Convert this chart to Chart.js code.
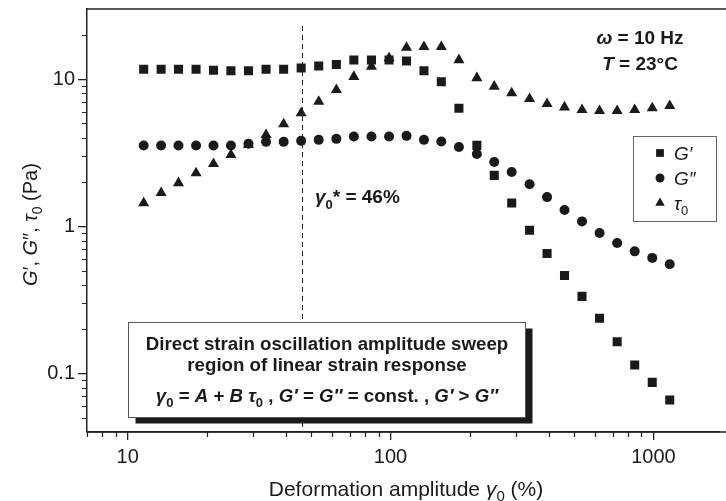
<!DOCTYPE html>
<html>
<head>
<meta charset="utf-8">
<script src="https://cdn.jsdelivr.net/npm/chart.js@4.4.1/dist/chart.umd.min.js"></script>
<style>
html, body { margin: 0; padding: 0; background: #fff; overflow: hidden; }
#wrap { width: 726px; height: 501px; }
</style>
</head>
<body>
<div id="wrap"><canvas id="myChart" width="726" height="501"></canvas></div>
<script>
// deformation amplitude gamma_0 (%)
var strain = [11.5, 13.4, 15.6, 18.2, 21.2, 24.7, 28.8, 33.6, 39.2, 45.7, 53.3, 62.2, 72.5, 84.6, 98.7,
              115, 134, 156, 182, 213, 248, 289, 338, 394, 459, 535, 624, 728, 849, 990, 1154];
// G' (Pa)
var gStorage = [11.7, 11.7, 11.7, 11.7, 11.5, 11.4, 11.4, 11.7, 11.7, 11.9, 12.3, 12.6, 13.5, 13.5, 13.5,
                13.3, 11.4, 9.6, 6.35, 3.55, 2.22, 1.44, 0.94, 0.653, 0.463, 0.334, 0.237, 0.164, 0.114, 0.087, 0.066];
// G'' (Pa)
var gLoss = [3.54, 3.54, 3.54, 3.54, 3.54, 3.54, 3.64, 3.75, 3.75, 3.81, 3.87, 3.93, 4.08, 4.08, 4.08,
             4.12, 3.87, 3.77, 3.46, 3.10, 2.74, 2.34, 1.93, 1.58, 1.29, 1.08, 0.90, 0.77, 0.676, 0.61, 0.552];
// tau_0 (Pa)
var tau0 = [1.44, 1.69, 1.97, 2.30, 2.66, 3.06, 3.58, 4.19, 4.95, 5.88, 7.05, 8.46, 10.4, 12.2, 13.9,
            16.4, 16.6, 16.6, 13.5, 10.2, 8.92, 8.04, 7.35, 6.80, 6.45, 6.19, 6.09, 6.09, 6.19, 6.36, 6.59];

var xMajor = [10, 100, 1000];
var xMinor = [7, 8, 9, 20, 30, 40, 50, 60, 70, 80, 90, 200, 300, 400, 500, 600, 700, 800, 900];
var yMajor = [0.1, 1, 10];
var yMinor = [0.05, 0.06, 0.07, 0.08, 0.09, 0.2, 0.3, 0.4, 0.5, 0.6, 0.7, 0.8, 0.9,
              2, 3, 4, 5, 6, 7, 8, 9, 20];
var gammaStar = 46;

var FONT = '"Liberation Sans", Arial, Helvetica, sans-serif';
var INK = '#1a1a1a';

function pts(ys) {
    return strain.map(function (x, i) { return { x: x, y: ys[i] }; });
}

// draw a row of text pieces with different fonts / offsets
function drawRuns(ctx, runs, x, y, align) {
    var w = 0;
    runs.forEach(function (r) { ctx.font = r.font; w += ctx.measureText(r.t).width; });
    var cx = x;
    if (align === 'center') cx = x - w / 2;
    if (align === 'right') cx = x - w;
    runs.forEach(function (r) {
        ctx.font = r.font;
        ctx.fillText(r.t, cx, y + (r.dy || 0));
        cx += ctx.measureText(r.t).width;
    });
}

function marker(ctx, style, x, y, r) {
    ctx.beginPath();
    if (style === 'rect') {
        var s = r * Math.SQRT1_2;
        ctx.rect(x - s, y - s, 2 * s, 2 * s);
    } else if (style === 'triangle') {
        var a = 0;
        ctx.moveTo(x + Math.sin(a) * r, y - Math.cos(a) * r);
        a += Math.PI * 2 / 3;
        ctx.lineTo(x + Math.sin(a) * r, y - Math.cos(a) * r);
        a += Math.PI * 2 / 3;
        ctx.lineTo(x + Math.sin(a) * r, y - Math.cos(a) * r);
        ctx.closePath();
    } else {
        ctx.arc(x, y, r, 0, Math.PI * 2);
    }
    ctx.fill();
}

var extras = {
    id: 'extras',
    beforeDatasetsDraw: function (chart) {
        var ctx = chart.ctx, a = chart.chartArea;
        var xs = chart.scales.x;
        ctx.save();
        // dashed line at gamma_0*
        var gx = Math.round(xs.getPixelForValue(gammaStar)) + 0.5;
        ctx.strokeStyle = '#222';
        ctx.lineWidth = 1;
        ctx.setLineDash([5, 4]);
        ctx.beginPath();
        ctx.moveTo(gx, 26);
        ctx.lineTo(gx, a.bottom);
        ctx.stroke();
        ctx.setLineDash([]);
        ctx.restore();
    },
    afterDraw: function (chart) {
        var ctx = chart.ctx, a = chart.chartArea;
        var xs = chart.scales.x, ys = chart.scales.y;
        ctx.save();

        // top frame line, bottom line carried to the edge
        ctx.strokeStyle = '#222';
        ctx.lineWidth = 1.5;
        ctx.beginPath();
        ctx.moveTo(a.left, a.top);
        ctx.lineTo(726, a.top);
        ctx.moveTo(a.left, a.bottom);
        ctx.lineTo(726, a.bottom);
        ctx.stroke();

        // minor ticks
        ctx.lineWidth = 1.2;
        ctx.beginPath();
        xMinor.forEach(function (v) {
            var px = Math.round(xs.getPixelForValue(v)) + 0.5;
            ctx.moveTo(px, a.bottom);
            ctx.lineTo(px, a.bottom + 5);
        });
        yMinor.forEach(function (v) {
            var py = Math.round(ys.getPixelForValue(v)) + 0.5;
            ctx.moveTo(a.left - 5, py);
            ctx.lineTo(a.left, py);
        });
        ctx.stroke();

        ctx.fillStyle = INK;
        ctx.textBaseline = 'alphabetic';
        ctx.textAlign = 'left';

        // gamma* label
        var gx = xs.getPixelForValue(gammaStar);
        drawRuns(ctx, [
            { t: 'γ', font: 'italic bold 19px ' + FONT },
            { t: '0', font: 'bold 13px ' + FONT, dy: 6 },
            { t: '* = 46%', font: 'bold 19px ' + FONT }
        ], gx + 13, 203, 'left');

        // conditions
        drawRuns(ctx, [
            { t: 'ω', font: 'italic bold 19px ' + FONT },
            { t: ' = 10 Hz', font: 'bold 19px ' + FONT }
        ], 640, 43.5, 'center');
        drawRuns(ctx, [
            { t: 'T', font: 'italic bold 19px ' + FONT },
            { t: ' = 23°C', font: 'bold 19px ' + FONT }
        ], 640, 70, 'center');

        // text box with shadow
        var bx = 128.5, by = 322.5, bw = 397, bh = 95;
        ctx.fillStyle = INK;
        ctx.fillRect(bx + 7, by + 6, bw, bh);
        ctx.fillStyle = '#fff';
        ctx.fillRect(bx, by, bw, bh);
        ctx.strokeStyle = '#555';
        ctx.lineWidth = 1;
        ctx.strokeRect(bx, by, bw, bh);
        ctx.fillStyle = INK;
        var cx = bx + bw / 2;
        var bi = 'italic bold 18.7px ' + FONT, b = 'bold 18.7px ' + FONT, bs = 'bold 13px ' + FONT;
        drawRuns(ctx, [{ t: 'Direct strain oscillation amplitude sweep', font: b }], cx, 349.5, 'center');
        drawRuns(ctx, [{ t: 'region of linear strain response', font: b }], cx, 371, 'center');
        drawRuns(ctx, [
            { t: 'γ', font: bi }, { t: '0', font: bs, dy: 5 },
            { t: ' = ', font: b }, { t: 'A', font: bi }, { t: ' + ', font: b },
            { t: 'B', font: bi }, { t: ' ', font: b }, { t: 'τ', font: bi },
            { t: '0', font: bs, dy: 5 }, { t: ' , ', font: b },
            { t: 'G′', font: bi }, { t: ' = ', font: b }, { t: 'G″', font: bi },
            { t: ' = const. , ', font: b }, { t: 'G′', font: bi }, { t: ' > ', font: b },
            { t: 'G″', font: bi }
        ], cx, 401.5, 'center');

        // legend
        ctx.strokeStyle = '#666';
        ctx.lineWidth = 1;
        ctx.strokeRect(633.5, 136.5, 83, 85);
        var leg = chart.data.datasets;
        leg.forEach(function (ds, i) {
            var ly = 153 + i * 25;
            ctx.fillStyle = INK;
            marker(ctx, ds.pointStyle, 660, ly, ds.pointStyle === 'circle' ? 4.5 : 5.5);
            var it = 'italic 19px ' + FONT;
            if (i === 2) {
                drawRuns(ctx, [{ t: 'τ', font: it }, { t: '0', font: '13px ' + FONT, dy: 5 }], 674, ly + 7, 'left');
            } else {
                drawRuns(ctx, [{ t: ds.label, font: it }], 674, ly + 7, 'left');
            }
        });

        // axis titles
        ctx.fillStyle = INK;
        drawRuns(ctx, [
            { t: 'Deformation amplitude ', font: '21px ' + FONT },
            { t: 'γ', font: 'italic 21px ' + FONT },
            { t: '0', font: '15px ' + FONT, dy: 5 },
            { t: ' (%)', font: '21px ' + FONT }
        ], 406, 496, 'center');

        ctx.translate(37, (a.top + a.bottom) / 2 + 4);
        ctx.rotate(-Math.PI / 2);
        drawRuns(ctx, [
            { t: 'G', font: 'italic 20px ' + FONT }, { t: '′, ', font: '20px ' + FONT },
            { t: 'G', font: 'italic 20px ' + FONT }, { t: '″, ', font: '20px ' + FONT },
            { t: 'τ', font: 'italic 20px ' + FONT }, { t: '0', font: '14px ' + FONT, dy: 5 },
            { t: ' (Pa)', font: '20px ' + FONT }
        ], 0, 0, 'center');

        ctx.restore();
    }
};

function createChart() {
    var ctx = document.getElementById('myChart').getContext('2d');
    var chart = new Chart(ctx, {
        type: 'scatter',
        data: {
            datasets: [{
                label: 'G′',
                data: pts(gStorage),
                pointStyle: 'rect',
                pointRadius: 6.4,
                backgroundColor: INK,
                borderWidth: 0
            }, {
                label: 'G″',
                data: pts(gLoss),
                pointStyle: 'circle',
                pointRadius: 5,
                backgroundColor: INK,
                borderWidth: 0
            }, {
                label: 'τ0',
                data: pts(tau0),
                pointStyle: 'triangle',
                pointRadius: 6.4,
                backgroundColor: INK,
                borderWidth: 0
            }]
        },
        options: {
            responsive: false,
            animation: false,
            events: [],
            layout: { padding: { top: 9, right: 1, left: 0, bottom: 0 } },
            plugins: { legend: { display: false }, tooltip: { enabled: false } },
            scales: {
                x: {
                    type: 'logarithmic',
                    min: 7,
                    max: 1786,
                    afterFit: function (s) { s.height = 69; s.paddingLeft = 0; s.paddingRight = 0; },
                    afterBuildTicks: function (s) { s.ticks = xMajor.map(function (v) { return { value: v, major: true }; }); },
                    border: { display: true, color: '#222', width: 1.5 },
                    grid: { drawOnChartArea: false, drawTicks: true, tickLength: 8, color: '#222', lineWidth: 1.3 },
                    ticks: {
                        autoSkip: false,
                        maxRotation: 0,
                        padding: 5,
                        color: INK,
                        font: { family: FONT, size: 20 },
                        callback: function (v) { return String(v); }
                    }
                },
                y: {
                    type: 'logarithmic',
                    min: 0.04,
                    max: 30,
                    afterFit: function (s) { s.width = 87; s.paddingTop = 0; s.paddingBottom = 0; },
                    afterBuildTicks: function (s) { s.ticks = yMajor.map(function (v) { return { value: v, major: true }; }); },
                    border: { display: true, color: '#222', width: 1.5 },
                    grid: { drawOnChartArea: false, drawTicks: true, tickLength: 9, color: '#222', lineWidth: 1.3 },
                    ticks: {
                        autoSkip: false,
                        padding: 3,
                        color: INK,
                        font: { family: FONT, size: 20 },
                        callback: function (v) { return String(v); }
                    }
                }
            }
        },
        plugins: [extras]
    });
    return chart;
}
createChart();
</script>
</body>
</html>
